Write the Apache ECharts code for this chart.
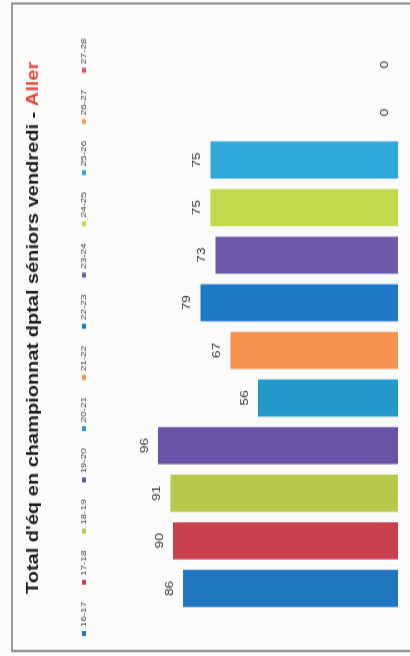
<!DOCTYPE html>
<html>
<head>
<meta charset="utf-8">
<script src="https://cdn.jsdelivr.net/npm/echarts@6/dist/echarts.min.js"></script>
<style>
  html, body { margin: 0; padding: 0; background: #fbfbfa; overflow: hidden; }
  body { width: 410px; height: 656px; position: relative; }
  /* le graphique d'origine est en colonnes ; la page scannée est tournée de 90° */
  #chart {
    position: absolute; left: 0; top: 0;
    width: 525px; height: 410px;
    transform-origin: 0 0;
    transform: translateY(656px) rotate(-90deg) scaleX(1.25);
  }
</style>
</head>
<body>
<div id="chart"></div>
<script>
// saisons (ordre de la légende)
const seasons = ['16-17', '17-18', '18-19', '19-20', '20-21', '21-22', '22-23', '23-24', '24-25', '25-26', '26-27', '27-28'];
// total d'équipes par saison
const totals = [86, 90, 91, 96, 56, 67, 79, 73, 75, 75, 0, 0];
const colors = ['#2176c0', '#c8404e', '#b8c84a', '#6b52a6', '#2299c8', '#f39251', '#1f7ac6', '#6e59aa', '#c4d94a', '#2ea8d8', '#f0a050', '#e8545a'];

const chart = echarts.init(document.getElementById('chart'));

// une série par saison, toutes superposées sur leur propre catégorie
const series = seasons.map((s, i) => ({
  name: s,
  type: 'bar',
  barWidth: '78%',
  barGap: '-100%',
  data: seasons.map((_, j) => (j === i ? totals[i] : '-')),
  itemStyle: { color: colors[i] },
  label: {
    show: true,
    position: 'top',
    distance: 8,
    color: '#333333',
    fontSize: 11,
    fontFamily: 'Liberation Sans',
  },
}));

chart.setOption({
  backgroundColor: 'transparent',
  animation: false,
  title: {
    text: "{b|Total d'éq en championnat dptal séniors vendredi - }{r|Aller}",
    left: 'center',
    top: 26,
    padding: 0,
    textStyle: {
      rich: {
        b: { fontSize: 16, fontWeight: 'bold', color: '#1a1a1a', fontFamily: 'Liberation Sans' },
        r: { fontSize: 16, fontWeight: 'bold', color: '#e8443e', fontFamily: 'Liberation Sans' },
      },
    },
  },
  legend: {
    left: 16,
    top: 80,
    padding: 0,
    itemWidth: 4,
    itemHeight: 4,
    itemGap: 13.5,
    icon: 'rect',
    textStyle: { fontSize: 8, color: '#404040', fontFamily: 'Liberation Sans', padding: [0, 0, 0, -2] },
    data: seasons,
  },
  graphic: [{
    type: 'rect',
    shape: { x: 4, y: 12, width: 518, height: 500 },
    style: { fill: null, stroke: '#9a9a9a', lineWidth: 2 },
    silent: true,
  }],
  grid: { left: 35, right: 33, top: 148, bottom: 12 },
  xAxis: {
    type: 'category',
    data: seasons,
    axisLine: { show: false },
    axisTick: { show: false },
    axisLabel: { show: false },
  },
  yAxis: {
    type: 'value',
    min: 0,
    max: 100,
    show: false,
    splitLine: { show: false },
  },
  series,
});
</script>
</body>
</html>
